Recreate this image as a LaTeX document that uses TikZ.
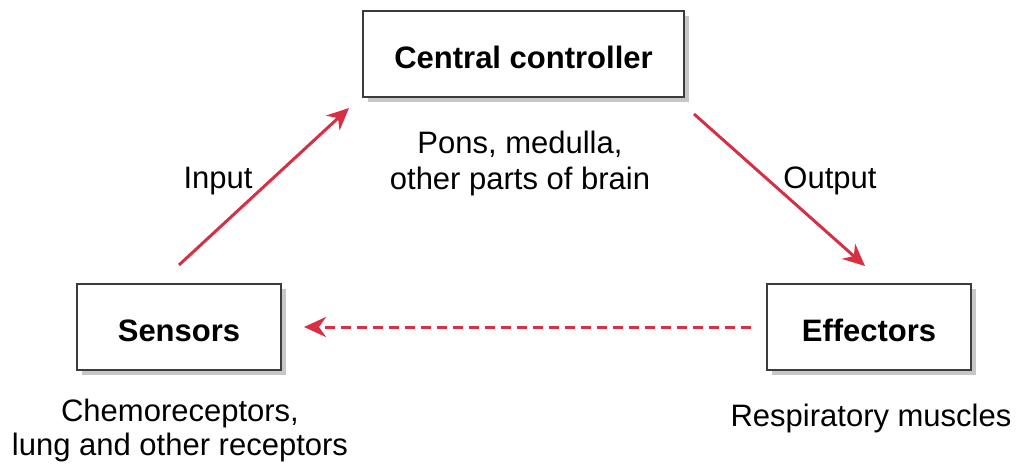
\documentclass[tikz,border=0pt]{standalone}
\usepackage{fontspec}
\setmainfont{Liberation Sans}
\usetikzlibrary{shadows,arrows.meta}

\definecolor{arrowred}{RGB}{214,48,69}
\definecolor{boxline}{RGB}{60,60,60}

\tikzset{%
  every block/.style={
    draw=boxline,
    line width=2pt,
    fill=white,
    font=\fontsize{31}{36}\selectfont\bfseries,
    text height=29pt,
    text depth=0pt,
    minimum height=86pt,
    drop shadow={shadow xshift=5pt, shadow yshift=-5pt, fill=black!22, opacity=1}
  },
  block wide/.style={minimum width=321pt},
  block narrow/.style={minimum width=204pt},
  note/.style={
    font=\fontsize{31}{36}\selectfont,
    inner sep=0pt
  },
  flow/.style={
    draw=arrowred,
    line width=3pt,
    -{Stealth[length=22pt,width=20pt,inset=7pt]}
  },
  feedback/.style={
    flow,
    dash pattern=on 10pt off 6pt
  },
}

\begin{document}
\begin{tikzpicture}[x=1pt, y=-1pt]

\useasboundingbox (0,0) rectangle (1017,465);

\node [every block, block wide] (controller) at (523.5,54) {Central controller};
\node [every block, block narrow] (sensors) at (179,327) {Sensors};
\node [every block, block narrow] (effectors) at (869,327) {Effectors};

\node [note, align=center] (controller-note) at (520,163)
  {Pons, medulla,\\other parts of brain};
\node [note, align=center, font=\fontsize{31}{34}\selectfont] (sensors-note) at (180,430)
  {Chemoreceptors,\\lung and other receptors};
\node [note] (effectors-note) at (871,418) {Respiratory muscles};

\draw [flow] ([yshift=18pt]sensors.north)
  -- ([shift={(-13pt,-10pt)}]controller.south west);
\draw [flow] ([shift={(9pt,-16pt)}]controller.south east)
  -- ([shift={(-4pt,17pt)}]effectors.north);
\draw [feedback] ([xshift=-15pt]effectors.west)
  -- ([xshift=22pt]sensors.east);

\node [note] (input-label) at (218,181) {Input};
\node [note] (output-label) at (830,181) {Output};

\end{tikzpicture}
\end{document}
